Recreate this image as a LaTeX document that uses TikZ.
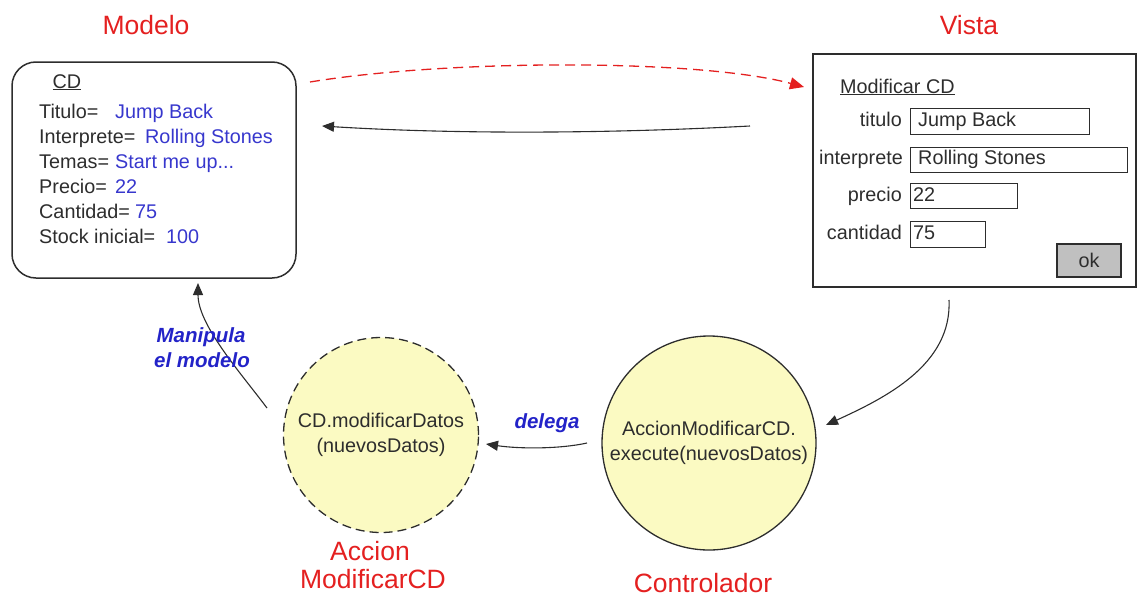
\documentclass[tikz,border=0pt]{standalone}
\usepackage{fontspec}
\setmainfont{Liberation Sans}
\usetikzlibrary{arrows.meta}
\definecolor{ink}{RGB}{45,45,45}
\definecolor{valblue}{RGB}{55,55,205}
\definecolor{lblblue}{RGB}{35,35,200}
\definecolor{titlered}{RGB}{228,32,32}
\definecolor{pale}{RGB}{251,250,194}
\definecolor{btn}{RGB}{192,192,192}
\tikzset{
  title/.style={text=titlered, font=\fontsize{26.5}{28}\selectfont, inner sep=0pt, anchor=base},
  txt/.style={text=ink, font=\fontsize{19.8}{25}\selectfont, inner sep=0pt, anchor=base west},
  val/.style={txt, text=valblue},
  lbl/.style={text=lblblue, font=\fontsize{20.5}{25}\selectfont\bfseries\itshape, inner sep=0pt, anchor=base},
  field/.style={draw=ink, line width=1.4pt, anchor=north west, inner sep=0pt},
  conn/.style={line width=1.1pt, draw=ink, -{Triangle[length=12pt,width=10pt]}},
  proc/.style={circle, fill=pale, draw=ink, line width=1.3pt, align=center,
    text=ink, font=\fontsize{19.8}{25}\selectfont, inner sep=0pt}
}
\begin{document}
\begin{tikzpicture}[x=1pt,y=-1pt]
\useasboundingbox (0,0) rectangle (1137,597);

% ---- Model ----
\node[title] (tmodelo) at (146,34) {Modelo};
\node[draw=ink, line width=1.5pt, rounded corners=24pt, minimum width=284pt,
  minimum height=216pt] (modelo) at (154,170) {};
\node[txt, anchor=base] (cd) at (67,88) {\underline{CD}};
\node[txt] (k1) at (39,118) {Titulo=};
\node[val] (v1) at (115,118) {Jump Back};
\node[txt] (k2) at (39,143) {Interprete=};
\node[val] (v2) at (145,143) {Rolling Stones};
\node[txt] (k3) at (39,168) {Temas=};
\node[val] (v3) at (115,168) {Start me up...};
\node[txt] (k4) at (39,193) {Precio=};
\node[val] (v4) at (115,193) {22};
\node[txt] (k5) at (39,218) {Cantidad=};
\node[val] (v5) at (135,218) {75};
\node[txt] (k6) at (39,243) {Stock inicial=};
\node[val] (v6) at (166,243) {100};

% ---- View ----
\node[title] (tvista) at (969,34) {Vista};
\node[draw=ink, line width=1.5pt, minimum width=323pt, minimum height=233pt,
  anchor=north west] (vista) at (812,53) {};
\node[txt] (mcd) at (840,93) {\underline{Modificar CD}};
\node[txt, anchor=base east] (ltit) at (902,126) {titulo};
\node[txt, anchor=base east] (lint) at (903,164) {interprete};
\node[txt, anchor=base east] (lpre) at (902,201) {precio};
\node[txt, anchor=base east] (lcan) at (902,239) {cantidad};
\node[field, minimum width=179pt, minimum height=26pt] (ftit) at (910,108) {};
\node[field, minimum width=217pt, minimum height=25pt] (fint) at (910,147) {};
\node[field, minimum width=107pt, minimum height=25pt] (fpre) at (910,183) {};
\node[field, minimum width=75pt, minimum height=26pt] (fcan) at (910,221) {};
\node[txt] (xtit) at (918,126) {Jump Back};
\node[txt] (xint) at (918,164) {Rolling Stones};
\node[txt] (xpre) at (913,201) {22};
\node[txt] (xcan) at (913,239) {75};
\node[draw=ink, fill=btn, line width=1.4pt, minimum width=64pt, minimum height=33pt,
  text=ink, font=\fontsize{19.8}{25}\selectfont] (ok) at (1089,260.5) {ok};

% ---- Controller and action ----
\node[proc, minimum size=214pt] (ctrl) at (709,443)
  {AccionModificarCD.\\execute(nuevosDatos)};
\node[title] (tctrl) at (703,592) {Controlador};
\node[proc, dashed, dash pattern=on 9pt off 5pt, minimum size=195pt] (accion) at (381,435)
  {CD.modificarDatos\\(nuevosDatos)};
\node[title] (tacc1) at (370,560) {Accion};
\node[title] (tacc2) at (373,588) {ModificarCD};

% ---- Connector ends ----
\coordinate (redA) at (310,82);
\coordinate (redB) at (804,87);
\coordinate (backA) at (750,126);
\coordinate (backB) at (322,126);
\coordinate (downA) at (949,300);
\coordinate (downB) at (826,425);
\coordinate (delA) at (587,443);
\coordinate (delB) at (486,444);
\coordinate (manA) at (267,408);
\coordinate (manB) at (198,283);

% ---- Connectors ----
\draw[titlered, line width=1.3pt, dash pattern=on 10pt off 6pt,
  -{Triangle[length=14pt,width=12pt]}]
  (redA) .. controls (450,59) and (700,59) .. (redB);
\draw[conn] (backA) .. controls (600,134) and (450,134) .. (backB);
\draw[conn] (downA) .. controls (952,365) and (885,398) .. (downB);
\draw[conn] (delA) .. controls (560,449) and (520,449) .. (delB);
\draw[conn] (manA) .. controls (240,372) and (198,325) .. (manB);

% ---- Connector labels ----
\node[lbl] (ldel) at (547,428) {delega};
\node[lbl] (lman1) at (201,342) {Manipula};
\node[lbl] (lman2) at (202,367) {el modelo};
\end{tikzpicture}
\end{document}
